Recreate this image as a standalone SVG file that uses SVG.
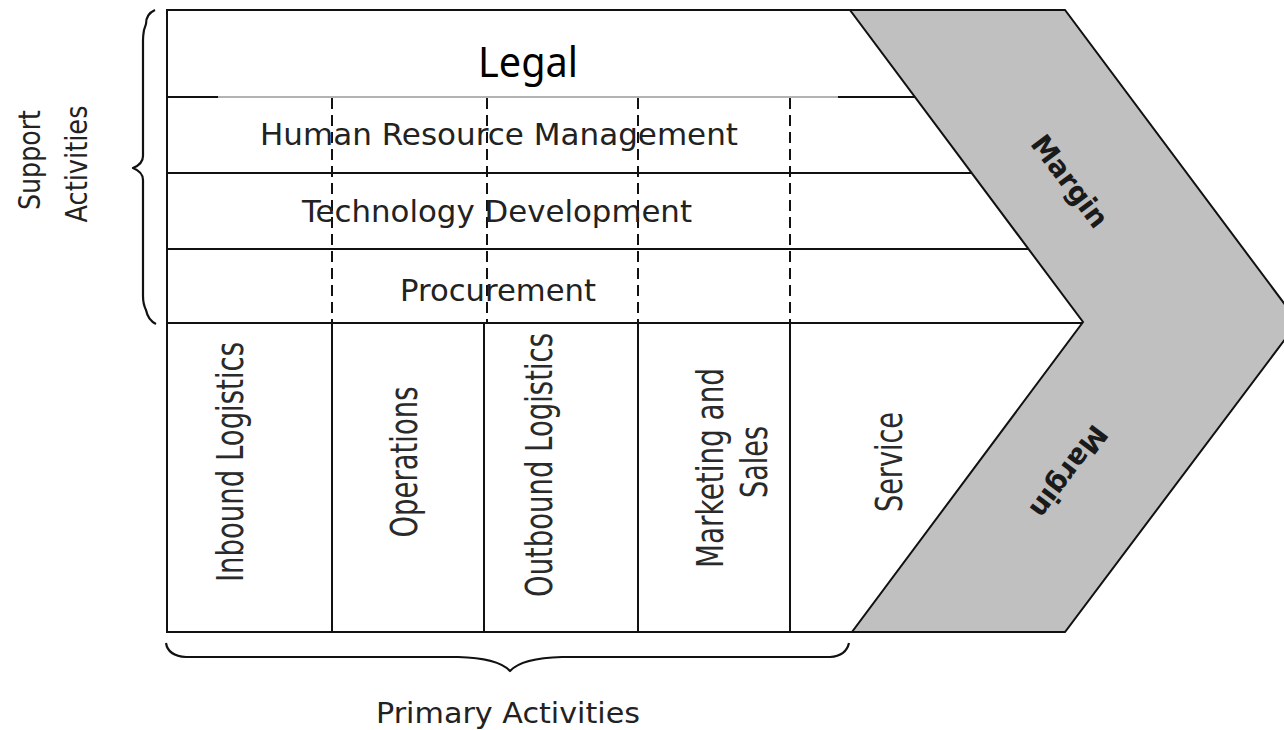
<svg xmlns="http://www.w3.org/2000/svg" width="1284" height="730" viewBox="0 0 1284 730">
  <defs>
    <style>
      .ln { stroke: #111; stroke-width: 2; fill: none; }
      .thin { stroke: #666; stroke-width: 1; fill: none; }
      .dash { stroke: #111; stroke-width: 2; fill: none; stroke-dasharray: 11 6; }
      .brace { stroke: #111; stroke-width: 2.2; fill: none; stroke-linejoin: round; }
      .t { font-family: "DejaVu Sans", Verdana, sans-serif; font-size: 30px; fill: #222; }
      .v { font-family: "DejaVu Sans", Verdana, sans-serif; font-size: 38px; fill: #2a2a2a; }
      .m { font-family: "DejaVu Sans", Verdana, sans-serif; font-size: 28px; font-weight: bold; fill: #1a1a1a; }
      .legal { font-family: "Noto Sans", "DejaVu Sans", sans-serif; font-size: 42px; fill: #000; }
    </style>
  </defs>
  <rect x="0" y="0" width="1284" height="730" fill="#fff"/>

  <g id="margin-band">
    <polygon points="850,10 1065,10 1298,322 1065,632 852,632 1083,322" fill="#c0c0c0" stroke="#111" stroke-width="2" stroke-linejoin="miter"/>
    <text class="m" x="0" y="0" text-anchor="middle" dy="0.36em" textLength="108" lengthAdjust="spacingAndGlyphs" transform="translate(1070,181) rotate(53)">Margin</text>
    <text class="m" x="0" y="0" text-anchor="middle" dy="0.36em" textLength="108" lengthAdjust="spacingAndGlyphs" transform="translate(1069,472) rotate(127)">Margin</text>
  </g>

  <g id="connectors">
    <!-- frame -->
    <line class="ln" x1="167" y1="10" x2="851" y2="10"/>
    <line class="ln" x1="167" y1="9" x2="167" y2="633"/>
    <line class="ln" x1="166" y1="632" x2="853" y2="632"/>
    <!-- support row lines -->
    <line class="ln" x1="167" y1="97" x2="218" y2="97"/>
    <line class="thin" x1="218" y1="97" x2="838" y2="97"/>
    <line class="ln" x1="838" y1="97" x2="915" y2="97"/>
    <line class="ln" x1="167" y1="173" x2="972" y2="173"/>
    <line class="ln" x1="167" y1="249" x2="1028" y2="249"/>
    <line class="ln" x1="167" y1="323" x2="1083" y2="323"/>
    <!-- dashed dividers in support area -->
    <line class="dash" x1="332" y1="98" x2="332" y2="323"/>
    <line class="dash" x1="487" y1="98" x2="487" y2="323"/>
    <line class="dash" x1="638" y1="98" x2="638" y2="323"/>
    <line class="dash" x1="790" y1="98" x2="790" y2="323"/>
    <!-- primary dividers -->
    <line class="ln" x1="332" y1="323" x2="332" y2="632"/>
    <line class="ln" x1="484" y1="323" x2="484" y2="632"/>
    <line class="ln" x1="638" y1="323" x2="638" y2="632"/>
    <line class="ln" x1="790" y1="323" x2="790" y2="632"/>
    <!-- braces -->
    <path class="brace" d="M155,10 Q146,14 146,24 L144,30 Q143,36 143,40 L143,156 Q143,164 133,168 Q143,172 143,180 L143,296 Q143,304 146,310 Q148,320 156,324"/>
    <path class="brace" d="M166,643 Q168,656 186,657 L458,657 Q498,658 510,671 Q522,658 562,657 L830,657 Q846,656 849,643"/>
  </g>

  <g id="legal">
    <text class="legal" x="528" y="77" text-anchor="middle" textLength="100" lengthAdjust="spacingAndGlyphs">Legal</text>
  </g>
  <g id="hrm">
    <text class="t" x="499" y="145" text-anchor="middle" textLength="478" lengthAdjust="spacingAndGlyphs">Human Resource Management</text>
  </g>
  <g id="tech">
    <text class="t" x="497" y="222" text-anchor="middle" textLength="390" lengthAdjust="spacingAndGlyphs">Technology Development</text>
  </g>
  <g id="procurement">
    <text class="t" x="498" y="301" text-anchor="middle" textLength="196" lengthAdjust="spacingAndGlyphs">Procurement</text>
  </g>

  <g id="inbound">
    <text class="v" x="0" y="0" text-anchor="middle" textLength="240" lengthAdjust="spacingAndGlyphs" transform="translate(243,462) rotate(-90)">Inbound Logistics</text>
  </g>
  <g id="operations">
    <text class="v" x="0" y="0" text-anchor="middle" textLength="151" lengthAdjust="spacingAndGlyphs" transform="translate(417,462) rotate(-90)">Operations</text>
  </g>
  <g id="outbound">
    <text class="v" x="0" y="0" text-anchor="middle" textLength="264" lengthAdjust="spacingAndGlyphs" transform="translate(552,465) rotate(-90)">Outbound Logistics</text>
  </g>
  <g id="marketing">
    <text class="v" x="0" y="0" text-anchor="middle" textLength="200" lengthAdjust="spacingAndGlyphs" transform="translate(723,468) rotate(-90)">Marketing and</text>
    <text class="v" x="0" y="0" text-anchor="middle" textLength="72" lengthAdjust="spacingAndGlyphs" transform="translate(767,462) rotate(-90)">Sales</text>
  </g>
  <g id="service">
    <text class="v" x="0" y="0" text-anchor="middle" textLength="100" lengthAdjust="spacingAndGlyphs" transform="translate(902,462) rotate(-90)">Service</text>
  </g>

  <g id="support-label">
    <text class="t" x="0" y="0" text-anchor="middle" textLength="100" lengthAdjust="spacingAndGlyphs" transform="translate(40,160) rotate(-90)">Support</text>
    <text class="t" x="0" y="0" text-anchor="middle" textLength="117" lengthAdjust="spacingAndGlyphs" transform="translate(87,164) rotate(-90)">Activities</text>
  </g>
  <g id="primary-label">
    <text class="t" x="508" y="723" text-anchor="middle" textLength="264" lengthAdjust="spacingAndGlyphs" style="font-size:28px">Primary Activities</text>
  </g>
</svg>
